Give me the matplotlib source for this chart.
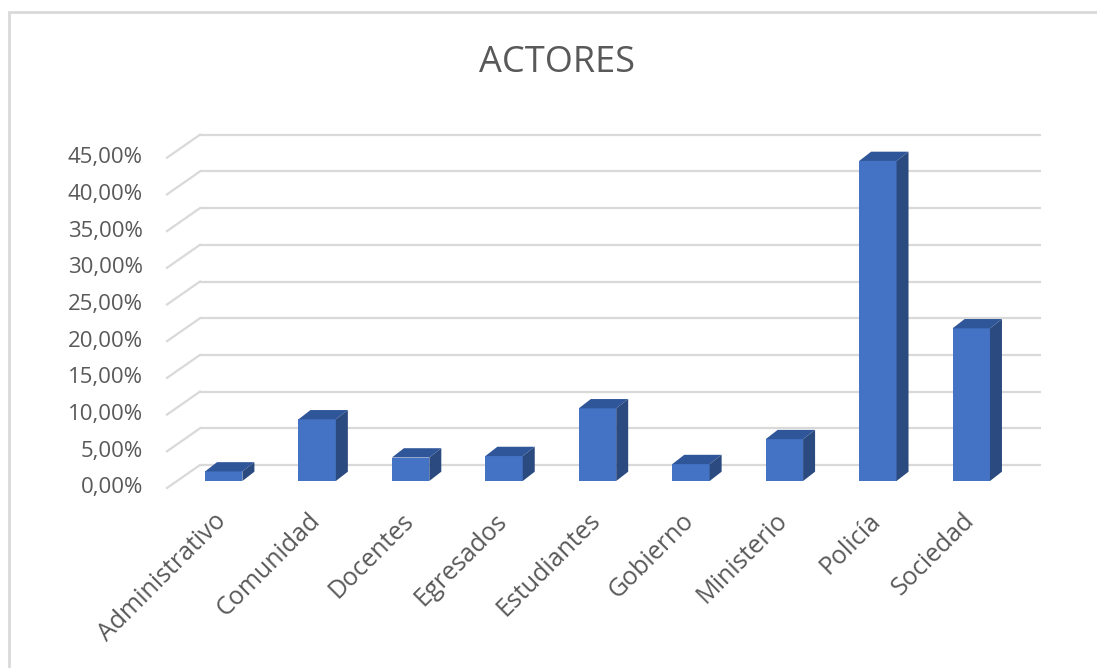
import matplotlib.pyplot as plt
from matplotlib.patches import Polygon, Rectangle
from matplotlib.transforms import ScaledTranslation
import numpy as np

# datos del grafico
categorias = ['Administrativo', 'Comunidad', 'Docentes', 'Egresados', 'Estudiantes',
              'Gobierno', 'Ministerio', 'Policía', 'Sociedad']
valores = [1.3, 8.4, 3.2, 3.4, 9.9, 2.3, 5.7, 43.6, 20.8]
ticks_y = [0, 5, 10, 15, 20, 25, 30, 35, 40, 45]
etiquetas_y = ['0,00%', '5,00%', '10,00%', '15,00%', '20,00%', '25,00%',
               '30,00%', '35,00%', '40,00%', '45,00%']

plt.rcParams['font.family'] = ['Open Sans', 'DejaVu Sans']
gris = '#595959'
linea = '#D9D9D9'
frente = '#4472C4'
lado = '#2B4A80'
arriba = '#30569A'

W, H = 1097, 668
fig = plt.figure(figsize=(W / 100, H / 100), dpi=100)
ax = fig.add_axes([177 / W, 1 - 481 / H, 841 / W, 330.3 / H])
ax.set_xlim(-0.5, 8.5)
ax.set_ylim(0, 45)
ax.set_axis_off()

##pixeles por unidad de datos
px_x = 841 / 9.0
px_y = 330.3 / 45.0
# pared de fondo / borde frontal / profundidad de barra (en px)
dxb, dyb = 23 / px_x, 16 / px_y
dxf, dyf = -10 / px_x, -7 / px_y
ddx, ddy = 12 / px_x, 9.3 / px_y

for k in ticks_y:
    ax.plot([-0.5 + dxb, 8.5 + dxb], [k + dyb, k + dyb], color=linea, lw=1.6,
            clip_on=False, zorder=0, solid_capstyle='butt')
    ax.plot([-0.5 + dxf, -0.5 + dxb], [k + dyf, k + dyb], color=linea, lw=1.6,
            clip_on=False, zorder=0)

x = np.arange(len(categorias))
w = 0.4
ax.bar(x, valores, width=w, color=frente, zorder=3, clip_on=False)
for xi, v in zip(x, valores):
    top = Polygon([(xi - w / 2, v), (xi + w / 2, v), (xi + w / 2 + ddx, v + ddy),
                   (xi - w / 2 + ddx, v + ddy)], closed=True, fc=arriba, ec='none',
                  zorder=3, clip_on=False)
    side = Polygon([(xi + w / 2, 0), (xi + w / 2 + ddx, ddy), (xi + w / 2 + ddx, v + ddy),
                    (xi + w / 2, v)], closed=True, fc=lado, ec='none', zorder=3, clip_on=False)
    ax.add_patch(top)
    ax.add_patch(side)

# etiquetas eje y
off_y = ax.transData + ScaledTranslation(-34 / 100, -7 / 100, fig.dpi_scale_trans)
for k, t in zip(ticks_y, etiquetas_y):
    ax.text(-0.5, k, t, transform=off_y, ha='right', va='center', fontsize=16, color=gris)

# etiquetas eje x
off_x = ax.transData + ScaledTranslation(-1 / 100, -36 / 100, fig.dpi_scale_trans)
for xi, c in zip(x, categorias):
    ax.text(xi, 0, c, transform=off_x, ha='right', va='center', rotation=45,
            rotation_mode='anchor', fontsize=18, color=gris)

fig.text(557 / W, 1 - 63 / H, 'ACTORES', ha='center', va='center', fontsize=26, color=gris)

fig.add_artist(Rectangle((9 / W, -0.1), 1.2, 1.1 - 12 / H, transform=fig.transFigure,
                         fill=False, ec=linea, lw=2))

fig.savefig('out.png', dpi=100)
